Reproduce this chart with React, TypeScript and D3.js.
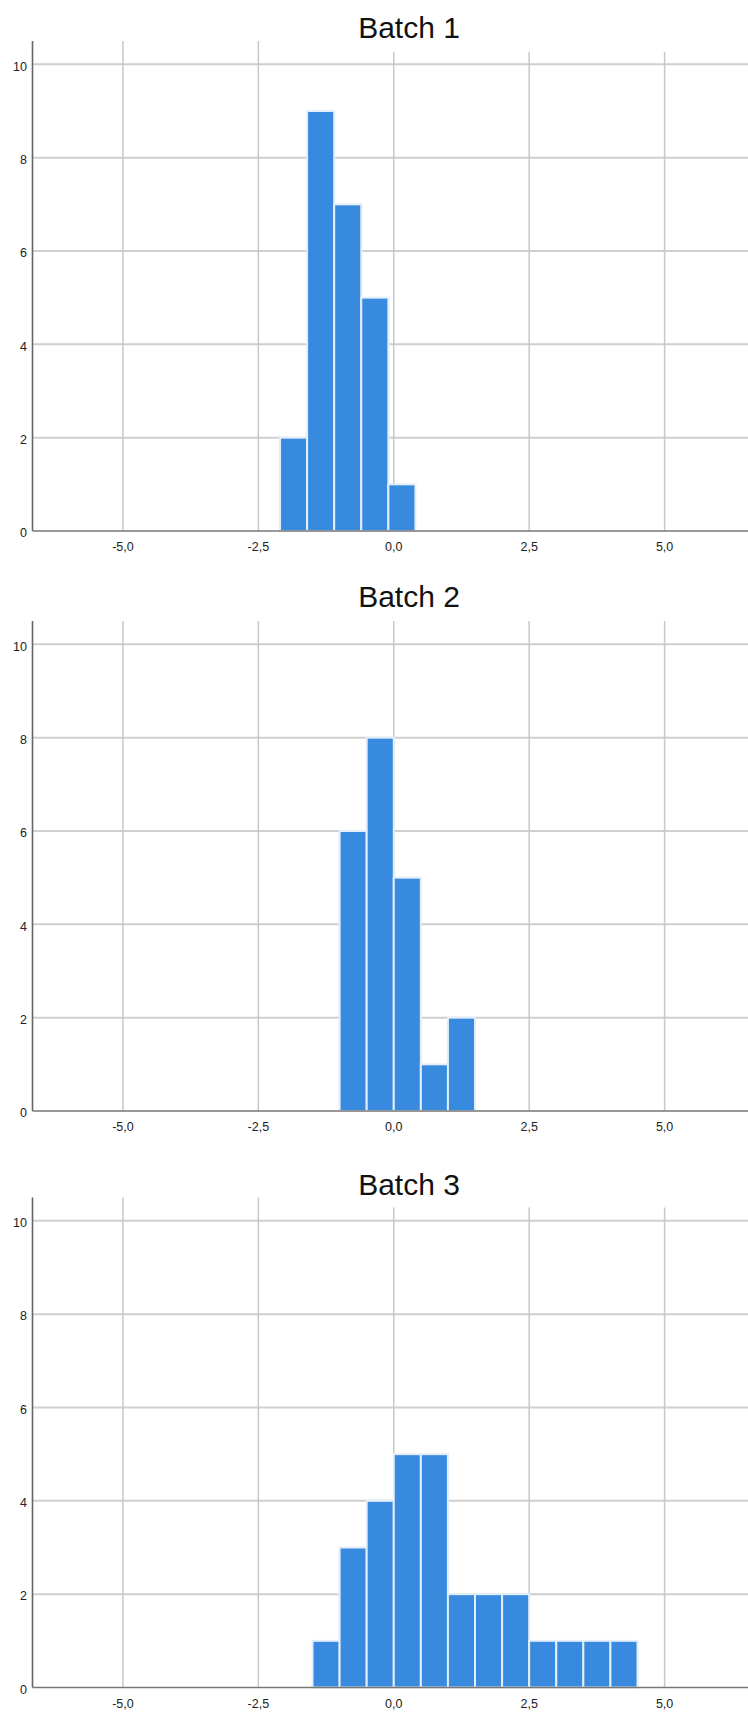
import React, {useRef, useEffect} from 'react'
import * as d3 from 'd3'

// bin edges step 0.5, counts per bin
const binWidth = 0.5
const batch1Start = -2.1
const batch1Counts = [2, 9, 7, 5, 1]
const batch2Start = -1.0
const batch2Counts = [6, 8, 5, 1, 2]
const batch3Start = -1.5
const batch3Counts = [1, 3, 4, 5, 5, 2, 2, 2, 1, 1, 1, 1]

const titles = ['Batch 1', 'Batch 2', 'Batch 3']
const xTicks = [-5, -2.5, 0, 2.5, 5]
const yTicks = [0, 2, 4, 6, 8, 10]

const W = 748
const H = 1713
// top of the y axis, title baseline and where the right hand grid lines start
const panels = [
  {top: 41, title: 37.5, rightGridTop: 51.7},
  {top: 621, title: 607, rightGridTop: 621},
  {top: 1197.5, title: 1195, rightGridTop: 1207.6},
]
const plotH = 490

const fmt = d3.formatLocale({
  decimal: ',',
  thousands: '.',
  grouping: [3],
  currency: ['', ''],
  minus: '-',
}).format('.1f')

function App() {
  const ref: any = useRef<SVGSVGElement>(null)

  useEffect(() => {
    const svg = d3.select(ref.current)
    svg.selectAll('*').remove()

    const xScale = d3.scaleLinear().domain([-6.67, 6.54]).range([32.5, W])

    const series = [
      {start: batch1Start, counts: batch1Counts},
      {start: batch2Start, counts: batch2Counts},
      {start: batch3Start, counts: batch3Counts},
    ]

    series.forEach((s, i) => {
      const p = panels[i]
      const yScale = d3
        .scaleLinear()
        .domain([0, 10.5])
        .range([p.top + plotH, p.top])
      const g = svg.append('g')
      const y0 = yScale(0)

      // horizontal grid
      g.selectAll('.hgrid')
        .data(yTicks.filter(t => t > 0))
        .join('line')
        .attr('x1', xScale.range()[0])
        .attr('x2', W)
        .attr('y1', d => yScale(d))
        .attr('y2', d => yScale(d))
        .attr('stroke', '#cfcfcf')
        .attr('stroke-width', 2)

      // vertical grid
      g.selectAll('.vgrid')
        .data(xTicks)
        .join('line')
        .attr('x1', d => xScale(d))
        .attr('x2', d => xScale(d))
        .attr('y1', d => (d >= 0 ? p.rightGridTop : p.top))
        .attr('y2', y0)
        .attr('stroke', '#c8c8c8')
        .attr('stroke-width', 1.5)

      // bars
      const bins = s.counts.map((c, k) => ({
        x0: s.start + k * binWidth,
        x1: s.start + (k + 1) * binWidth,
        count: c,
      }))
      g.selectAll('.bar')
        .data(bins)
        .join('rect')
        .attr('x', d => xScale(d.x0))
        .attr('width', d => xScale(d.x1) - xScale(d.x0))
        .attr('y', d => yScale(d.count))
        .attr('height', d => y0 - yScale(d.count))
        .attr('fill', '#378ade')
        .attr('stroke', '#e4eefa')
        .attr('stroke-width', 2)

      // axes
      g.append('line')
        .attr('x1', xScale.range()[0])
        .attr('x2', xScale.range()[0])
        .attr('y1', p.top)
        .attr('y2', y0)
        .attr('stroke', '#666')
        .attr('stroke-width', 1.6)
      g.append('line')
        .attr('x1', xScale.range()[0])
        .attr('x2', W)
        .attr('y1', y0)
        .attr('y2', y0)
        .attr('stroke', '#777')
        .attr('stroke-width', 1.6)

      g.selectAll('.ylab')
        .data(yTicks)
        .join('text')
        .attr('x', 27)
        .attr('y', d => yScale(d) + 6.3)
        .attr('text-anchor', 'end')
        .attr('font-family', 'Liberation Sans, Arial, sans-serif')
        .attr('font-size', 12.5)
        .attr('fill', '#222')
        .text(d => d)

      g.selectAll('.xlab')
        .data(xTicks)
        .join('text')
        .attr('x', d => xScale(d))
        .attr('y', y0 + 20)
        .attr('text-anchor', 'middle')
        .attr('font-family', 'Liberation Sans, Arial, sans-serif')
        .attr('font-size', 12.5)
        .attr('fill', '#222')
        .text(d => fmt(d))

      g.append('text')
        .attr('x', 409)
        .attr('y', p.title)
        .attr('text-anchor', 'middle')
        .attr('font-family', 'Liberation Sans, Arial, sans-serif')
        .attr('font-size', 30)
        .attr('fill', '#111')
        .text(titles[i])
    })
  }, [])

  return (
    <svg
      ref={ref}
      width={W}
      height={H}
      style={{position: 'absolute', left: 0, top: 0, background: '#fff'}}
    />
  )
}

export default App
